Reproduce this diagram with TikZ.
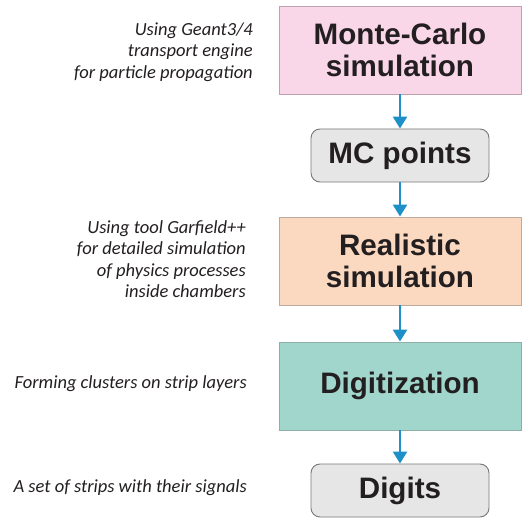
\documentclass[tikz,border=0pt]{standalone}
\usepackage{fontspec}
\setmainfont{Liberation Sans}
\newfontfamily\notefont{Carlito}
\usetikzlibrary{arrows.meta}
\definecolor{pinkfill}{RGB}{249,214,232}
\definecolor{pinkedge}{RGB}{190,160,175}
\definecolor{peachfill}{RGB}{251,217,192}
\definecolor{peachedge}{RGB}{190,170,155}
\definecolor{tealfill}{RGB}{160,214,203}
\definecolor{tealedge}{RGB}{140,175,168}
\definecolor{grayfill}{RGB}{230,230,230}
\definecolor{grayedge}{RGB}{120,120,120}
\definecolor{arrowblue}{RGB}{30,144,200}
\definecolor{textdark}{RGB}{35,31,32}
\tikzset{
  bigbox/.style={draw, line width=0.9pt, minimum width=242pt, minimum height=88pt,
    align=center, inner sep=0pt, text=textdark,
    font=\fontsize{29.6}{32}\selectfont\bfseries},
  smallbox/.style={draw=grayedge, fill=grayfill, line width=0.9pt, rounded corners=9pt,
    minimum width=178pt, minimum height=53pt, inner sep=0pt, text=textdark,
    font=\fontsize{29.6}{32}\selectfont\bfseries},
  flow/.style={draw=arrowblue, line width=2.4pt, -{Triangle[width=14pt,length=12pt]}},
  note/.style={anchor=east, align=right, inner sep=0pt, text=textdark,
    font=\notefont\itshape\fontsize{18.5}{21.5}\selectfont}
}
\begin{document}
\begin{tikzpicture}[x=1pt,y=-1pt]
\useasboundingbox[fill=white] (0,0) rectangle (522,518);
\node[bigbox, fill=pinkfill, draw=pinkedge] (mc) at (400,50) {Monte-Carlo\\simulation};
\node[smallbox] (mcp) at (400,155.5) {MC points};
\node[bigbox, fill=peachfill, draw=peachedge] (real) at (400,261) {Realistic\\simulation};
\node[bigbox, fill=tealfill, draw=tealedge] (dig) at (400,386) {Digitization};
\node[smallbox] (digits) at (400,490.5) {Digits};
\draw[flow] (mc) -- (mcp);
\draw[flow] (mcp) -- (real);
\draw[flow] (real) -- (dig);
\draw[flow] (dig) -- (digits);
\node[note] (n1) at (253,52) {Using Geant3/4\\transport engine\\for particle propagation};
\node[note] (n2) at (246,259) {Using tool Garfield++\\for detailed simulation\\of physics processes\\inside chambers};
\node[note] (n3) at (247,384) {Forming clusters on strip layers};
\node[note] (n4) at (247,488) {A set of strips with their signals};
\end{tikzpicture}
\end{document}
